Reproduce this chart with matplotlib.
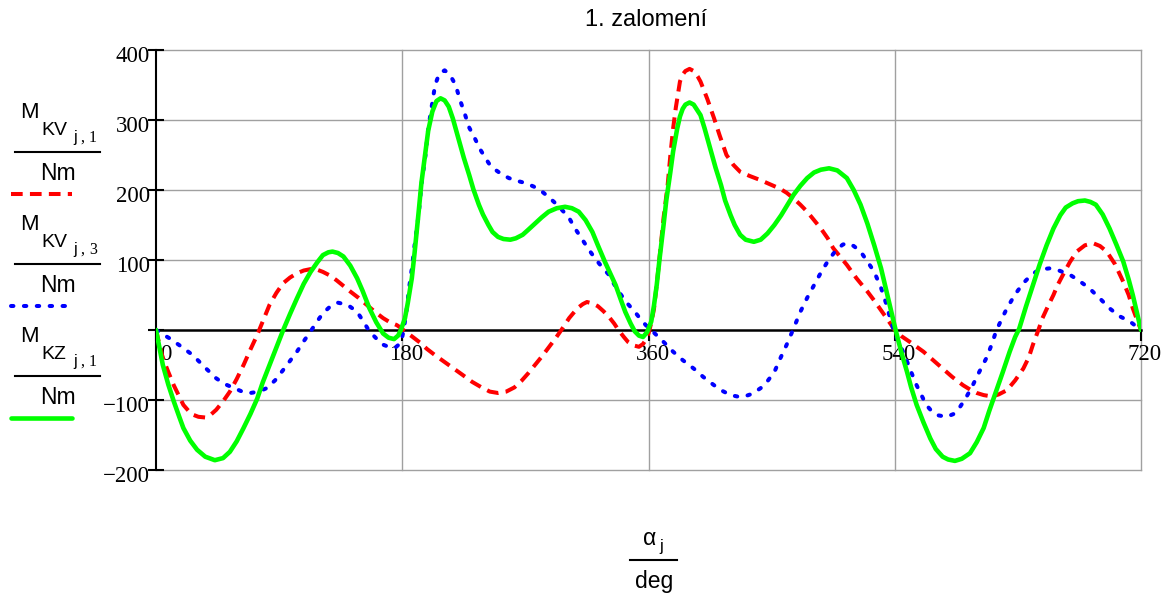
import matplotlib
matplotlib.use("Agg")
import matplotlib.pyplot as plt
from matplotlib.lines import Line2D
from matplotlib.transforms import ScaledTranslation

# M_KV(j,1) - red dashed
kv1_deg = [0, 3, 5, 9, 13, 17, 20, 24, 27, 31, 36, 40, 44, 49, 54, 59, 64, 69, 74, 78, 83, 88, 93, 98,
           103, 108, 113, 118, 122, 127, 132, 137, 142, 148, 154, 160, 166, 171, 176, 179, 182, 187, 193,
           198, 204, 209, 214, 219, 224, 231, 238, 244, 250, 256, 262, 267, 272, 277, 282, 287, 292, 297,
           302, 308, 312, 315, 319, 323, 327, 331, 335, 338, 342, 345, 349, 353, 356, 358, 360, 362, 364,
           366, 369, 371, 374, 376, 378, 380, 383, 385, 387, 390, 393, 396, 398, 403, 408, 412, 417, 422,
           427, 434, 442, 449, 456, 461, 466, 471, 476, 481, 486, 491, 495, 500, 505, 512, 520, 525, 529,
           534, 540, 545, 551, 556, 561, 568, 575, 582, 590, 595, 600, 605, 611, 616, 622, 628, 634, 638,
           641, 645, 648, 652, 656, 659, 663, 668, 673, 679, 685, 690, 695, 701, 707, 711, 714, 717, 720]
kv1_val = [0, -25, -40, -60, -79, -95, -107, -116, -121, -124, -125, -121, -114, -102, -88, -70, -50, -28,
           -7, 12, 36, 53, 67, 75, 81, 85, 87, 86, 83, 78, 71, 63, 55, 46, 36, 26, 17, 11, 7, 3, -2, -9,
           -18, -27, -36, -43, -50, -57, -64, -74, -82, -88, -90, -88, -82, -73, -62, -50, -38, -25, -12,
           2, 17, 31, 37, 40, 38, 34, 27, 19, 9, 0, -10, -17, -22, -24, -20, -14, -5, 10, 30, 65, 121,
           160, 207, 250, 288, 318, 355, 365, 370, 373, 370, 362, 355, 330, 302, 278, 250, 236, 226, 220,
           214, 208, 202, 196, 188, 179, 169, 157, 145, 131, 117, 105, 93, 74, 55, 42, 31, 17, 0, -9,
           -17, -24, -31, -43, -55, -67, -79, -85, -90, -93, -95, -92, -86, -72, -55, -39, -21, 0, 17,
           34, 50, 64, 79, 97, 112, 121, 124, 120, 112, 94, 69, 50, 31, 15, 0]

# M_KV(j,3) - blue dotted
kv3_deg = [0, 4, 10, 18, 27, 35, 44, 50, 57, 63, 69, 75, 81, 87, 93, 98, 103, 108, 113, 117, 122, 127,
           133, 140, 147, 151, 156, 161, 166, 170, 175, 178, 180, 181, 183, 185, 187, 189, 192, 194, 197,
           199, 202, 204, 207, 211, 215, 219, 222, 226, 229, 233, 237, 241, 244, 248, 253, 258, 264, 270,
           276, 282, 287, 292, 297, 302, 306, 311, 316, 321, 326, 331, 335, 340, 345, 350, 354, 358, 363,
           370, 378, 385, 393, 400, 408, 414, 420, 425, 430, 436, 442, 447, 452, 456, 461, 466, 471, 476,
           481, 486, 491, 497, 502, 505, 510, 515, 520, 525, 530, 534, 537, 540, 544, 548, 552, 556, 560,
           563, 567, 572, 578, 583, 587, 592, 597, 602, 607, 611, 614, 618, 622, 628, 634, 638, 643, 648,
           653, 660, 668, 675, 682, 690, 697, 704, 712, 716, 720]
kv3_val = [0, -5, -12, -23, -36, -52, -69, -77, -83, -88, -90, -88, -83, -72, -57, -44, -31, -16, -2, 10,
           24, 33, 39, 36, 26, 14, -2, -12, -21, -24, -25, -20, -10, 0, 25, 60, 88, 121, 165, 207, 250,
           288, 325, 350, 366, 371, 364, 350, 330, 307, 289, 274, 258, 245, 236, 229, 222, 217, 213, 210,
           205, 198, 190, 181, 171, 160, 146, 131, 116, 102, 90, 79, 65, 50, 37, 26, 16, 7, -2,
           -15, -31, -43, -55, -67, -79, -87, -93, -95, -95, -91, -83, -73, -60, -42, -21, 2, 26, 46,
           64, 82, 98, 114, 122, 124, 120, 112, 98, 83, 60, 36, 14, -5, -22, -40, -60, -79, -95,
           -107, -116, -122, -124, -120, -112, -97, -79, -59, -40, -20, -2, 15, 31, 51, 67, 75, 83, 87,
           88, 85, 79, 70, 60, 45, 31, 20, 12, 6, 2]

# M_KZ(j,1) - green solid
kz1_deg = [0, 3, 5, 9, 13, 17, 20, 25, 30, 36, 43, 49, 54, 59, 64, 69, 74, 78, 83, 88, 93, 98, 103, 108,
           113, 118, 122, 126, 129, 133, 137, 142, 147, 151, 156, 161, 166, 170, 174, 177, 179, 182, 184,
           187, 189, 192, 194, 197, 199, 202, 205, 208, 211, 214, 217, 221, 225, 229, 232, 236, 239, 243,
           246, 250, 254, 259, 263, 268, 272, 277, 282, 287, 293, 299, 304, 309, 314, 319, 323, 328, 332,
           336, 340, 343, 347, 350, 353, 356, 359, 362, 364, 366, 368, 371, 373, 376, 378, 381, 383, 385,
           387, 390, 393, 398, 401, 405, 409, 413, 416, 420, 423, 427, 431, 437, 442, 447, 452, 457, 461,
           466, 471, 476, 481, 486, 492, 498, 505, 510, 515, 520, 525, 530, 534, 538, 541, 545, 549, 552,
           556, 561, 566, 570, 575, 579, 584, 589, 595, 600, 605, 609, 614, 619, 624, 628, 631, 636, 641,
           646, 651, 656, 661, 665, 670, 674, 679, 683, 687, 692, 697, 702, 707, 711, 714, 717, 720]
kz1_val = [0, -30, -50, -78, -102, -124, -140, -158, -171, -181, -186, -183, -174, -159, -140, -120, -98,
           -75, -50, -25, 0, 23, 45, 66, 83, 97, 107, 111, 112, 110, 105, 92, 74, 56, 31, 11, -5, -11,
           -13, -8, 0, 17, 38, 74, 110, 169, 210, 255, 285, 312, 327, 331, 328, 319, 302, 274, 246, 221,
           201, 179, 165, 150, 140, 133, 130, 129, 131, 136, 143, 152, 161, 169, 174, 176, 174, 169, 157,
           140, 121, 98, 81, 64, 42, 26, 9, -2, -8, -10, -3, 12, 35, 64, 100, 150, 185, 226, 255, 288,
           305, 316, 322, 325, 322, 307, 288, 260, 232, 207, 185, 164, 150, 136, 129, 126, 129, 138, 150,
           164, 177, 193, 206, 217, 225, 229, 231, 228, 217, 200, 179, 152, 121, 88, 55, 22, -3, -33, -60,
           -82, -107, -132, -155, -170, -181, -185, -187, -184, -176, -160, -140, -116, -88, -60, -31, -10,
           2, 34, 64, 94, 121, 145, 164, 175, 181, 184, 185, 183, 179, 165, 145, 122, 98, 72, 50, 25, 0]

x_ticks = [0, 180, 360, 540, 720]
y_ticks = [-200, -100, 0, 100, 200, 300, 400]
y_tick_labels = ['\u2212200', '\u2212100', '', '100', '200', '300', '400']

W, H = 1173, 594
fig = plt.figure(figsize=(W / 100, H / 100), dpi=100)
ax = fig.add_axes([156 / W, (H - 470) / H, 985 / W, 420 / H])

grid_col = '#a0a0a0'
for xv in x_ticks[1:]:
    ax.axvline(xv, color=grid_col, lw=1, clip_on=False, zorder=0.5)
for yv in y_ticks:
    if yv != 0:
        ax.axhline(yv, color=grid_col, lw=1, clip_on=False, zorder=0.5)

red_style = dict(color='#ff0000', lw=2.9, dashes=(2.9, 1.8), solid_joinstyle='round', dash_joinstyle='round')
blue_style = dict(color='#0000ff', lw=2.9, dashes=(0.6, 2.6), dash_capstyle='round', dash_joinstyle='round')
green_style = dict(color='#00ff00', lw=3.3, solid_joinstyle='round', solid_capstyle='round')

ax.plot(kv1_deg, kv1_val, zorder=3, **red_style)
ax.plot(kv3_deg, kv3_val, zorder=3, **blue_style)
ax.plot(kz1_deg, kz1_val, zorder=3.5, **green_style)

ax.set_xlim(0, 720)
ax.set_ylim(-200, 400)
for s in ['top', 'right']:
    ax.spines[s].set_visible(False)
ax.spines['left'].set_linewidth(1.5)
ax.spines['bottom'].set_position(('data', 0))
ax.spines['bottom'].set_linewidth(1.8)

serif = 'Liberation Serif'
sans = 'Liberation Sans'

ax.set_yticks(y_ticks)
ax.set_yticklabels(y_tick_labels, family=serif, fontsize=16.5)
ax.tick_params(axis='y', direction='inout', length=11, width=1.5, pad=-1)
ax.set_xticks(x_ticks)
ax.set_xticklabels([str(v) for v in x_ticks], family=serif, fontsize=16.5)
ax.tick_params(axis='x', direction='out', length=8, width=1.5, pad=2)

for lab in ax.get_yticklabels():
    lab.set_transform(lab.get_transform() + ScaledTranslation(0, -4 / 100, fig.dpi_scale_trans))
for i, lab in enumerate(ax.get_xticklabels()):
    dx = 10 if i == 0 else 4
    lab.set_transform(lab.get_transform() + ScaledTranslation(dx / 100, 0, fig.dpi_scale_trans))


def ftext(px, py, s, **kw):
    fig.text(px / W, 1 - py / H, s, **kw)


def fline(x0, x1, py, **kw):
    fig.add_artist(Line2D([x0 / W, x1 / W], [1 - py / H, 1 - py / H], **kw))


ftext(646, 20, '1. zalomení', family=sans, fontsize=17, ha='center', va='center')

# legend on the left, one fraction per series
legend_subs = [('KV', '1'), ('KV', '3'), ('KZ', '1')]
legend_styles = [red_style, blue_style, green_style]
for k, ((sub, idx), st) in enumerate(zip(legend_subs, legend_styles)):
    dy = 112 * k
    ftext(20, 118 + dy, 'M', family=sans, fontsize=16, va='baseline')
    ftext(41, 135 + dy, sub, family=sans, fontsize=14, va='baseline')
    ftext(73, 142 + dy, 'j', family=sans, fontsize=11.5, va='baseline')
    ftext(80, 142 + dy, ',', family=serif, fontsize=11.5, va='baseline')
    ftext(89, 142 + dy, idx, family=serif, fontsize=11.5, va='baseline')
    fline(15, 100, 152 + dy, color='black', lw=1.5)
    ftext(58, 180 + dy, 'Nm', family=sans, fontsize=16.5, ha='center', va='baseline')
    fline(11, 72, 194 + dy, **st)

# x-axis label fraction
ftext(643, 545, '\u03b1', family=sans, fontsize=16.5, va='baseline')
ftext(659, 551, 'j', family=sans, fontsize=12, va='baseline')
fline(630, 677, 560, color='black', lw=1.5)
ftext(654, 588, 'deg', family=sans, fontsize=16.5, ha='center', va='baseline')

fig.savefig('out.png', dpi=100)
